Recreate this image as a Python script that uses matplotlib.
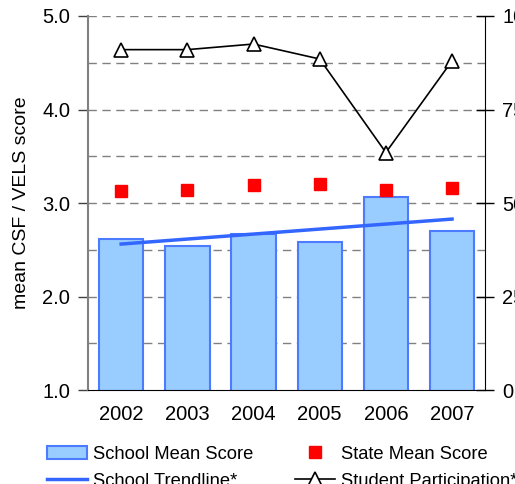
import numpy as np
import matplotlib.pyplot as plt

plt.rcParams['font.family'] = ['Liberation Sans', 'DejaVu Sans']

# data
years = ['2002', '2003', '2004', '2005', '2006', '2007']
school_mean = [2.62, 2.54, 2.67, 2.58, 3.06, 2.70]
state_mean = [3.13, 3.14, 3.19, 3.20, 3.14, 3.16]
participation = [91, 91, 92.5, 88.5, 63.5, 88]

x = np.arange(len(years))
coef = np.polyfit(x, school_mean, 1)
trend = np.polyval(coef, x)

fig = plt.figure(figsize=(5.15, 4.84), dpi=100)
ax = fig.add_axes([0.171, 0.194, 0.771, 0.773])

# grid
for g in np.arange(1.5, 5.01, 0.5):
    ax.axhline(g, color='#808080', lw=1, ls=(0, (6, 4)), zorder=0)

# bars start at 0 and are clipped by the 1.0 axis floor
bars = ax.bar(x, school_mean, width=0.67, color='#99CCFF',
              edgecolor='#4D7BFF', linewidth=1.5, zorder=2)
trend_line, = ax.plot(x, trend, color='#3366FF', lw=2.5, zorder=3)
state_pts, = ax.plot(x, state_mean, 's', color='#FF0000', ms=8.5, zorder=4)

ax.set_xlim(-0.5, 5.5)
ax.set_ylim(1.0, 5.0)
ax.set_yticks([1, 2, 3, 4, 5])
ax.set_yticklabels(['1.0', '2.0', '3.0', '4.0', '5.0'])
ax.set_xticks(x)
ax.set_xticklabels(years)
ax.tick_params(axis='x', length=0, pad=11, labelsize=14.5)
ax.tick_params(axis='y', direction='out', length=7, width=1, pad=6, labelsize=14.5,
               color='#404040')
ax.set_ylabel('mean CSF / VELS score', fontsize=14, labelpad=9)
ax.spines['top'].set_visible(False)
ax.spines['right'].set_visible(False)
ax.spines['left'].set_color('#808080')
ax.spines['left'].set_linewidth(1.5)

ax2 = ax.twinx()
part_line, = ax2.plot(x, participation, '-^', color='black', lw=1.2, ms=10,
                      mfc='white', mec='black', mew=1.2, zorder=5)
ax2.set_ylim(0, 100)
ax2.set_yticks([0, 25, 50, 75, 100])
ax2.tick_params(axis='y', direction='inout', length=13, width=1, pad=6, labelsize=14.5)
ax2.spines['top'].set_visible(False)
ax2.spines['left'].set_visible(False)
ax2.spines['bottom'].set_visible(False)

handles = [bars, trend_line, state_pts, part_line]
labels = ['School Mean Score', 'School Trendline*', 'State Mean Score',
          'Student Participation*']
fig.legend(handles, labels, ncol=2, loc='upper left', bbox_to_anchor=(0.073, 0.098),
           frameon=False, fontsize=13.2, handlelength=2.2, handletextpad=0.3,
           columnspacing=2.3, labelspacing=0.55, borderpad=0)

fig.savefig('out.png', dpi=100)
